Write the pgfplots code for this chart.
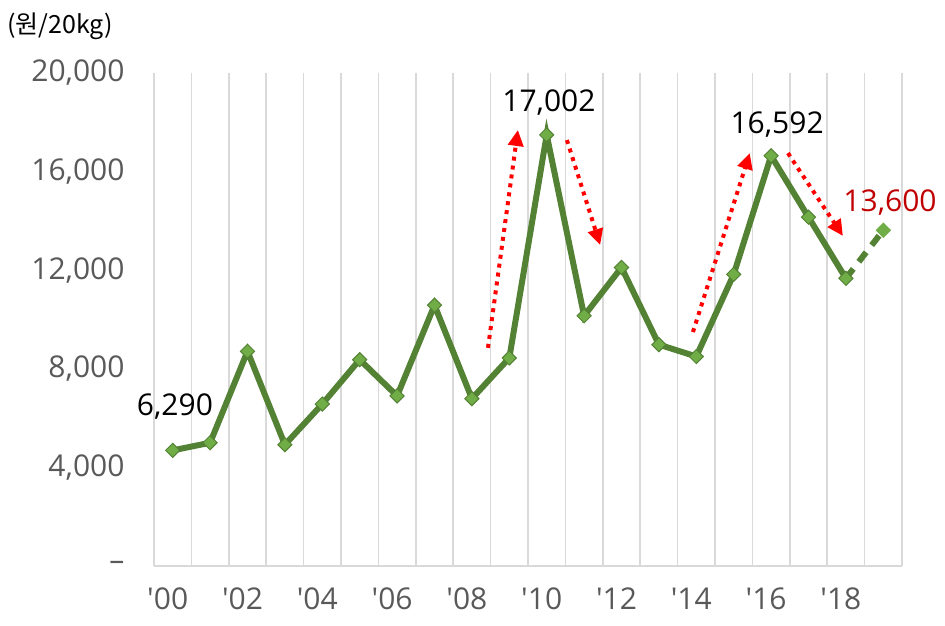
\documentclass[border=0pt]{standalone}
\usepackage{fontspec}
\setmainfont{Open Sans}[Ligatures=TeXOff]
\newfontfamily\kr{Noto Sans CJK KR}
\usepackage{pgfplots}
\pgfplotsset{compat=1.18}
\usetikzlibrary{arrows.meta}
\definecolor{lg}{HTML}{548235}
\definecolor{mk}{HTML}{70AD47}
\definecolor{gridc}{HTML}{D9D9D9}
\definecolor{tk}{HTML}{595959}
\definecolor{dr}{HTML}{C00000}
\begin{document}
\begin{tikzpicture}
\useasboundingbox (0,0) rectangle (945pt,625pt);
\node[anchor=west, font=\kr\fontsize{25}{28}\selectfont, inner sep=0pt] at (7pt,599pt) {(원/20kg)};
\begin{axis}[at={(154pt,59pt)}, anchor=south west, scale only axis,
  width=748pt, height=493pt,
  xmin=-0.5, xmax=19.5, ymin=0, ymax=20000,
  xtick={0,2,...,18},
  xticklabels={'00,'02,'04,'06,'08,'10,'12,'14,'16,'18},
  minor xtick={-0.5,0.5,...,19.5},
  xminorgrids, minor grid style={gridc, line width=1.5pt},
  axis x line*=bottom, axis y line*=left,
  y axis line style={draw=none},
  x axis line style={gridc, line width=2pt, -},
  ytick={0,4000,8000,12000,16000,20000},
  yticklabels={{\textendash},{4,000},{8,000},{12,000},{16,000},{20,000}},
  tick style={draw=none}, major tick length=0pt, minor tick length=0pt,
  ticklabel style={font=\fontsize{30}{34}\selectfont, text=tk},
  yticklabel style={xshift=-26pt},
  xticklabel style={yshift=-18pt, xshift=-5pt},
  scaled y ticks=false, clip=false]
\addplot[lg, line width=6pt, mark=square*, mark size=5pt,
  mark options={rotate=45, fill=mk, draw=lg, line width=1pt, solid}]
  coordinates {(0,4690) (1,5000) (2,8710) (3,4920) (4,6570) (5,8370) (6,6900)
  (7,10580) (8,6790) (9,8440) (10,17490) (11,10150) (12,12110) (13,8980)
  (14,8500) (15,11830) (16,16640) (17,14150) (18,11670)};
\addplot[lg, line width=6pt, dash pattern=on 12pt off 9pt, mark=square*, mark size=5pt,
  mark options={rotate=45, fill=mk, draw=mk, line width=1pt, solid}, mark indices={2}]
  coordinates {(18,11670) (19,13620)};
\begin{scope}[red, line width=4pt, dash pattern=on 4pt off 5pt]
\draw[-{Triangle[length=16pt,width=15pt]}] (axis cs:8.43,8850) -- (axis cs:9.23,17690);
\draw[-{Triangle[length=16pt,width=15pt]}] (axis cs:10.54,17280) -- (axis cs:11.43,13020);
\draw[-{Triangle[length=16pt,width=15pt]}] (axis cs:13.91,9490) -- (axis cs:15.43,16750);
\draw[-{Triangle[length=16pt,width=15pt]}] (axis cs:16.45,16750) -- (axis cs:17.92,13390);
\end{scope}
\node[font=\fontsize{30}{34}\selectfont, black] at (axis cs:0.06,6450) {6,290};
\node[font=\fontsize{30}{34}\selectfont, black] at (axis cs:10.06,18800) {17,002};
\node[font=\fontsize{30}{34}\selectfont, black] at (axis cs:16.16,17900) {16,592};
\node[font=\fontsize{30}{34}\selectfont, dr] at (axis cs:19.18,14750) {13,600};
\end{axis}
\end{tikzpicture}
\end{document}
